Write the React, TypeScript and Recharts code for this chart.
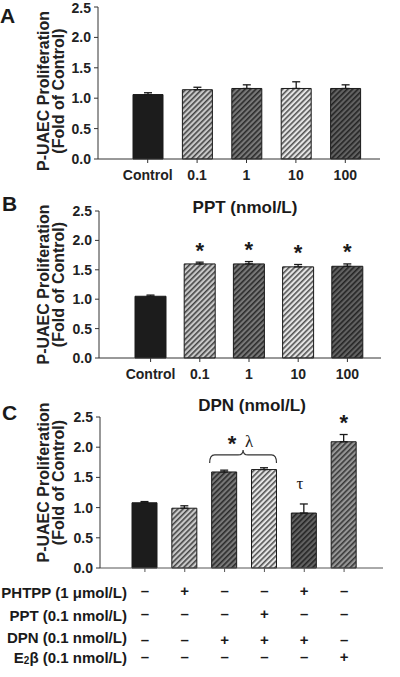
import { BarChart, Bar, XAxis, YAxis, Cell, ErrorBar, LabelList, Label } from 'recharts'

const FONT = '"Liberation Sans", Arial, Helvetica, sans-serif'
const SERIF = '"Liberation Serif", "DejaVu Serif", serif'

// Panel A: dose response (no effect)
const doseLabels = ['Control', '0.1', '1', '10', '100']
const aMeans = [1.06, 1.14, 1.16, 1.16, 1.16]
const aErrs = [0.03, 0.04, 0.06, 0.11, 0.06]

// Panel B: PPT (nmol/L)
const bMeans = [1.05, 1.6, 1.6, 1.55, 1.56]
const bErrs = [0.02, 0.03, 0.04, 0.04, 0.04]
const bMarks = ['', '*', '*', '*', '*']

// Panel C: DPN (nmol/L) with blockers
const cGroups = ['Control', 'PHTPP', 'DPN', 'PPT+DPN', 'PHTPP+DPN', 'E2b']
const cMeans = [1.08, 0.99, 1.59, 1.63, 0.91, 2.09]
const cErrs = [0.02, 0.04, 0.03, 0.03, 0.15, 0.12]
const cMarks = ['', '', 'bracket', '', 'τ', '*']
const phtpp = ['–', '+', '–', '–', '+', '–']
const ppt = ['–', '–', '–', '+', '–', '–']
const dpn = ['–', '–', '+', '+', '+', '–']
const e2 = ['–', '–', '–', '–', '–', '+']
const rowLabels = ['PHTPP (1 μmol/L)', 'PPT (0.1 nmol/L)', 'DPN (0.1 nmol/L)', 'E2β (0.1 nmol/L)']

const yTicks = [0, 0.5, 1, 1.5, 2, 2.5]

const aData = doseLabels.map((name, i) => ({ name, value: aMeans[i], err: [0, aErrs[i]] }))
const bData = doseLabels.map((name, i) => ({ name, value: bMeans[i], err: [0, bErrs[i]] }))
const cData = cGroups.map((name, i) => ({ name, value: cMeans[i], err: [0, cErrs[i]] }))

// fills
const doseFills = ['#1c1c1c', 'url(#hLight)', 'url(#hDark)', 'url(#hPale)', 'url(#hDarker)']
const cFills = ['#1c1c1c', 'url(#hLight)', 'url(#hDark)', 'url(#hPale)', 'url(#hDarker)', 'url(#hMid)']

// C axis geometry (used for the brace spanning two bars)
const C_LEFT = 100
const C_RIGHT = 383
const C_PAD = { left: 25, right: 19 }
const C_STEP = (C_RIGHT - C_LEFT - C_PAD.left - C_PAD.right) / cGroups.length

const tickStyle = { fill: '#222', fontSize: 14, fontWeight: 'bold' as const, fontFamily: FONT }

function Hatch({ id, bg, stripe }: { id: string; bg: string; stripe: string }) {
  return (
    <pattern id={id} patternUnits="userSpaceOnUse" width="3.8" height="3.8" patternTransform="rotate(45)">
      <rect width="3.8" height="3.8" fill={bg} />
      <line x1="0.8" y1="0" x2="0.8" y2="3.8" stroke={stripe} strokeWidth="1.5" />
    </pattern>
  )
}

function YLabel(dy: number) {
  return (props: any) => {
    const vb = props.viewBox || { y: 0, height: 150 }
    const cy = vb.y + vb.height / 2 + dy
    return (
      <g fontFamily={FONT} fontWeight="bold" fontSize={16} fill="#222">
        <text x={43} y={cy} transform={`rotate(-90 43 ${cy})`} textAnchor="middle" dominantBaseline="central">
          P-UAEC Proliferation
        </text>
        <text x={58} y={cy} transform={`rotate(-90 58 ${cy})`} textAnchor="middle" dominantBaseline="central">
          (Fold of Control)
        </text>
      </g>
    )
  }
}

function barBox(p: any) {
  const vb = p.viewBox && p.viewBox.width != null ? p.viewBox : p
  return { x: Number(vb.x), y: Number(vb.y), width: Number(vb.width), height: Number(vb.height) }
}

function Star({ cx, cy }: { cx: number; cy: number }) {
  return (
    <text x={cx} y={cy + 12.5} textAnchor="middle" fontFamily={FONT} fontWeight="bold" fontSize={22} fill="#1a1a1a">
      *
    </text>
  )
}

function bMark(p: any) {
  const i = p.index
  if (!bMarks[i]) return null
  const { x, y, width, height } = barBox(p)
  const errTop = y - bErrs[i] * (height / bMeans[i])
  return <Star cx={x + width / 2} cy={errTop - 17} />
}

function cMark(p: any) {
  const i = p.index
  const m = cMarks[i]
  if (!m) return null
  const { x, y, width, height } = barBox(p)
  const errTop = y - cErrs[i] * (height / cMeans[i])
  if (m === '*') return <Star cx={x + width / 2} cy={errTop - 17} />
  if (m === 'τ')
    return (
      <text x={x + width / 2 - 4} y={errTop - 15} textAnchor="middle" fontFamily={SERIF} fontSize={17} fill="#1a1a1a">
        τ
      </text>
    )
  // curly brace over this bar and the next one
  const x0 = x - 2
  const x1 = x + width + C_STEP
  const mid = (x0 + x1) / 2
  const yb = y - 9
  const yt = y - 17
  const yp = y - 22
  const r = 5
  const d = `M${x0},${yb} Q${x0},${yt} ${x0 + r},${yt} L${mid - r},${yt} Q${mid},${yt} ${mid},${yp} Q${mid},${yt} ${mid + r},${yt} L${x1 - r},${yt} Q${x1},${yt} ${x1},${yb}`
  return (
    <g>
      <path d={d} fill="none" stroke="#333" strokeWidth={1.2} />
      <Star cx={mid - 11} cy={y - 33} />
      <text x={mid + 6} y={y - 25} textAnchor="middle" fontFamily={SERIF} fontSize={17} fill="#1a1a1a">
        λ
      </text>
    </g>
  )
}

function TreatTick(p: any) {
  const { x, y, index } = p
  const rows = [phtpp, ppt, dpn, e2]
  const offs = [18, 41, 67, 84]
  const labOffs = [20, 43, 65.5, 85]
  return (
    <g fontFamily={FONT} fontWeight="bold" fill="#1a1a1a">
      {rows.map((r, k) => (
        <text key={k} x={x} y={y + offs[k]} textAnchor="middle" dominantBaseline="central" fontSize={15}>
          {r[index]}
        </text>
      ))}
      {index === 0 &&
        rowLabels.map((lab, k) =>
          k === 3 ? (
            <text key={k} x={x - 18} y={y + labOffs[k]} textAnchor="end" dominantBaseline="central" fontSize={15}>
              E<tspan fontSize={10} dy={3}>2</tspan>
              <tspan dy={-3}>{lab.slice(2)}</tspan>
            </text>
          ) : (
            <text key={k} x={x - 18} y={y + labOffs[k]} textAnchor="end" dominantBaseline="central" fontSize={15}>
              {lab}
            </text>
          )
        )}
    </g>
  )
}

const letterStyle = {
  position: 'absolute' as const,
  fontFamily: FONT,
  fontWeight: 'bold' as const,
  fontSize: 21,
  lineHeight: '21px',
  color: '#1a1a1a',
}
const titleStyle = {
  position: 'absolute' as const,
  width: 200,
  textAlign: 'center' as const,
  fontFamily: FONT,
  fontWeight: 'bold' as const,
  fontSize: 17,
  lineHeight: '17px',
  color: '#1a1a1a',
}

export default function App() {
  return (
    <div style={{ position: 'absolute', left: 0, top: 0, width: 400, height: 677, background: '#fff', overflow: 'hidden' }}>
      <svg width={0} height={0} style={{ position: 'absolute' }}>
        <defs>
          <Hatch id="hLight" bg="#c8c8c8" stripe="#3e3e3e" />
          <Hatch id="hDark" bg="#787878" stripe="#262626" />
          <Hatch id="hPale" bg="#e4e4e4" stripe="#4a4a4a" />
          <Hatch id="hDarker" bg="#626262" stripe="#202020" />
          <Hatch id="hMid" bg="#969696" stripe="#333333" />
        </defs>
      </svg>

      <div style={{ ...letterStyle, left: 0, top: 5 }}>A</div>
      <div style={{ ...letterStyle, left: 2, top: 193 }}>B</div>
      <div style={{ ...letterStyle, left: 2, top: 402 }}>C</div>
      <div style={{ ...titleStyle, left: 145, top: 199 }}>PPT (nmol/L)</div>
      <div style={{ ...titleStyle, left: 152, top: 397 }}>DPN (nmol/L)</div>

      <div style={{ position: 'absolute', left: 0, top: 0 }}>
        <BarChart width={400} height={190} data={aData} margin={{ top: 7, right: 20, bottom: 0, left: 0 }}>
          <XAxis
            dataKey="name"
            interval={0}
            padding={{ left: 25, right: 10 }}
            height={31}
            tickSize={4}
            tickMargin={7}
            stroke="#333"
            tick={tickStyle}
          />
          <YAxis
            width={98}
            domain={[0, 2.5]}
            ticks={yTicks}
            tickFormatter={(v: number) => v.toFixed(1)}
            tickSize={4}
            tickMargin={3}
            stroke="#333"
            tick={tickStyle}
            label={<Label content={YLabel(8)} />}
          />
          <Bar dataKey="value" barSize={30} stroke="#1a1a1a" strokeWidth={1} isAnimationActive={false}>
            {aData.map((d, i) => (
              <Cell key={d.name} fill={doseFills[i]} />
            ))}
            <ErrorBar dataKey="err" width={4} stroke="#1a1a1a" strokeWidth={1.3} isAnimationActive={false} />
          </Bar>
        </BarChart>
      </div>

      <div style={{ position: 'absolute', left: 0, top: 190 }}>
        <BarChart width={400} height={199} data={bData} margin={{ top: 21, right: 19, bottom: 0, left: 0 }}>
          <XAxis
            dataKey="name"
            interval={0}
            padding={{ left: 27, right: 9 }}
            height={31}
            tickSize={4}
            tickMargin={7}
            stroke="#333"
            tick={tickStyle}
          />
          <YAxis
            width={99}
            domain={[0, 2.5]}
            ticks={yTicks}
            tickFormatter={(v: number) => v.toFixed(1)}
            tickSize={4}
            tickMargin={3}
            stroke="#333"
            tick={tickStyle}
            label={<Label content={YLabel(0)} />}
          />
          <Bar dataKey="value" barSize={31} stroke="#1a1a1a" strokeWidth={1} isAnimationActive={false}>
            {bData.map((d, i) => (
              <Cell key={d.name} fill={doseFills[i]} />
            ))}
            <ErrorBar dataKey="err" width={4} stroke="#1a1a1a" strokeWidth={1.3} isAnimationActive={false} />
            <LabelList dataKey="value" content={bMark} />
          </Bar>
        </BarChart>
      </div>

      <div style={{ position: 'absolute', left: 0, top: 390 }}>
        <BarChart width={400} height={287} data={cData} margin={{ top: 27, right: 400 - C_RIGHT, bottom: 0, left: 0 }}>
          <XAxis
            dataKey="name"
            interval={0}
            padding={C_PAD}
            height={109}
            tickSize={4}
            tickMargin={0}
            stroke="#555"
            tick={TreatTick}
          />
          <YAxis
            width={C_LEFT}
            domain={[0, 2.5]}
            ticks={yTicks}
            tickFormatter={(v: number) => v.toFixed(1)}
            tickSize={4}
            tickMargin={3}
            stroke="#333"
            tick={tickStyle}
            label={<Label content={YLabel(-10)} />}
          />
          <Bar dataKey="value" barSize={25} stroke="#1a1a1a" strokeWidth={1} isAnimationActive={false}>
            {cData.map((d, i) => (
              <Cell key={d.name} fill={cFills[i]} />
            ))}
            <ErrorBar dataKey="err" width={4} stroke="#1a1a1a" strokeWidth={1.3} isAnimationActive={false} />
            <LabelList dataKey="value" content={cMark} />
          </Bar>
        </BarChart>
      </div>
    </div>
  )
}
